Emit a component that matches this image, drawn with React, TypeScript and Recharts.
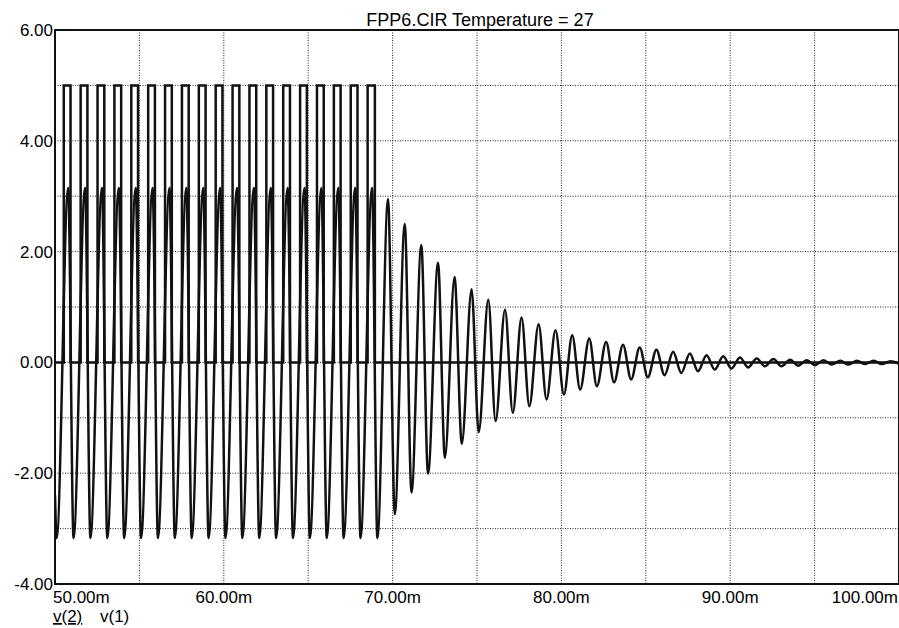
import React from 'react';
import { LineChart, Line, XAxis, YAxis, CartesianGrid, ReferenceArea } from 'recharts';

// time in ms, volts
const xTicks = [50, 55, 60, 65, 70, 75, 80, 85, 90, 95, 100];
const yTicks = [-4, -3, -2, -1, 0, 1, 2, 3, 4, 5, 6];

// v(1): pulse source, rising / falling edges (ms), 0 -> 5 V
const v1Rise = [50.52, 51.52, 52.52, 53.52, 54.52, 55.52, 56.52, 57.52, 58.52, 59.52, 60.52, 61.52, 62.52, 63.52, 64.52, 65.52, 66.52, 67.52, 68.52];
const v1Fall = [50.92, 51.92, 52.92, 53.92, 54.92, 55.92, 56.92, 57.92, 58.92, 59.92, 60.92, 61.92, 62.92, 63.92, 64.92, 65.92, 66.92, 67.92, 68.95];
const v1High = 5;

// v(2): extrema of the ringing output
const v2Time = [
  50.0, 50.1, 50.78, 51.1, 51.78, 52.1, 52.78, 53.1, 53.78, 54.1, 54.78, 55.1, 55.78, 56.1, 56.78, 57.1,
  57.78, 58.1, 58.78, 59.1, 59.78, 60.1, 60.78, 61.1, 61.78, 62.1, 62.78, 63.1, 63.78, 64.1, 64.78, 65.1,
  65.78, 66.1, 66.78, 67.1, 67.78, 68.1, 68.78, 69.1,
  69.73, 70.13, 70.72, 71.12, 71.7, 72.1, 72.69, 73.1, 73.67, 74.1, 74.68, 75.1, 75.67, 76.1, 76.66, 77.12,
  77.64, 78.1, 78.65, 79.12, 79.65, 80.15, 80.64, 81.11, 81.65, 82.1, 82.65, 83.12, 83.65, 84.13, 84.64, 85.12,
  85.63, 86.11, 86.62, 87.1, 87.61, 88.09, 88.6, 89.08, 89.59, 90.07, 90.58, 91.06, 91.57, 92.05, 92.56, 93.04,
  93.55, 94.03, 94.54, 95.02, 95.53, 96.01, 96.52, 97.0, 97.51, 97.99, 98.5, 98.98, 99.49, 99.97,
];
const v2Volt = [
  -2.4, -3.17, 3.15, -3.17, 3.15, -3.17, 3.15, -3.17, 3.15, -3.17, 3.15, -3.17, 3.15, -3.17, 3.15, -3.17,
  3.15, -3.17, 3.15, -3.17, 3.15, -3.17, 3.15, -3.17, 3.15, -3.17, 3.15, -3.17, 3.15, -3.17, 3.15, -3.17,
  3.15, -3.17, 3.15, -3.17, 3.15, -3.17, 3.15, -3.17,
  2.95, -2.74, 2.5, -2.35, 2.12, -2.01, 1.8, -1.72, 1.54, -1.47, 1.32, -1.26, 1.13, -1.06, 0.95, -0.91,
  0.81, -0.79, 0.69, -0.67, 0.58, -0.58, 0.49, -0.49, 0.43, -0.43, 0.37, -0.36, 0.32, -0.31, 0.27, -0.27,
  0.23, -0.23, 0.19, -0.19, 0.16, -0.16, 0.13, -0.13, 0.11, -0.11, 0.09, -0.09, 0.07, -0.07, 0.06, -0.07,
  0.05, -0.06, 0.04, -0.05, 0.04, -0.04, 0.03, -0.04, 0.03, -0.03, 0.03, -0.03, 0.02, -0.02,
];

const v1Data: { t: number; v: number }[] = [{ t: 50, v: 0 }];
v1Rise.forEach((r, i) => {
  v1Data.push({ t: r, v: v1High });
  v1Data.push({ t: v1Fall[i], v: 0 });
});
v1Data.push({ t: 100, v: 0 });

const v2Data = v2Time.map((t, i) => ({ t, v: v2Volt[i] }));

const FONT = '"Liberation Sans", Arial, sans-serif';

const XTick = (props: any) => {
  const { x, y, payload } = props;
  const val = payload.value;
  if (val % 10 !== 0) return <g />;
  let anchor: 'start' | 'middle' | 'end' = 'middle';
  let dx = 0;
  if (val === 50) { anchor = 'start'; dx = -2; }
  if (val === 100) { anchor = 'end'; dx = -1; }
  return (
    <text x={x + dx} y={y + 11} textAnchor={anchor} fontFamily={FONT} fontSize={17} fill="#000">
      {val.toFixed(2)}m
    </text>
  );
};

const YTick = (props: any) => {
  const { x, y, payload } = props;
  const val = payload.value;
  if (val % 2 !== 0) return <g />;
  return (
    <text x={x + 6} y={y + 6} textAnchor="end" fontFamily={FONT} fontSize={17} fill="#000">
      {val.toFixed(2)}
    </text>
  );
};

export default function App() {
  return (
    <div style={{ position: 'absolute', left: 0, top: 0, width: 899, height: 628, background: '#fff' }}>
      <LineChart width={899} height={628} margin={{ top: 30, right: 0, bottom: 0, left: 0 }}>
        <CartesianGrid stroke="#222" strokeDasharray="1 1.5" />
        <XAxis
          dataKey="t"
          type="number"
          domain={[50, 100]}
          ticks={xTicks}
          allowDataOverflow
          axisLine={false}
          tickLine={false}
          tick={<XTick />}
          interval={0}
          height={44}
        />
        <YAxis
          type="number"
          domain={[-4, 6]}
          ticks={yTicks}
          allowDataOverflow
          axisLine={false}
          tickLine={false}
          tick={<YTick />}
          interval={0}
          width={55}
        />
        <ReferenceArea x1={50} x2={100} y1={-4} y2={6} fill="none" stroke="#111" strokeWidth={2} />
        <Line data={v1Data} dataKey="v" type="stepAfter" stroke="#111" strokeWidth={2.5} dot={false} isAnimationActive={false} />
        <Line data={v2Data} dataKey="v" type="monotone" stroke="#111" strokeWidth={2.5} dot={false} isAnimationActive={false} />
      </LineChart>
      <svg width={899} height={628} style={{ position: 'absolute', left: 0, top: 0, pointerEvents: 'none' }}>
        <text x={480} y={26} textAnchor="middle" fontFamily={FONT} fontSize={18} fill="#000">
          FPP6.CIR Temperature = 27
        </text>
        <text x={53} y={622} fontFamily={FONT} fontSize={17} fill="#000" textDecoration="underline">
          v(2)
        </text>
        <text x={100} y={622} fontFamily={FONT} fontSize={17} fill="#000">
          v(1)
        </text>
      </svg>
    </div>
  );
}
